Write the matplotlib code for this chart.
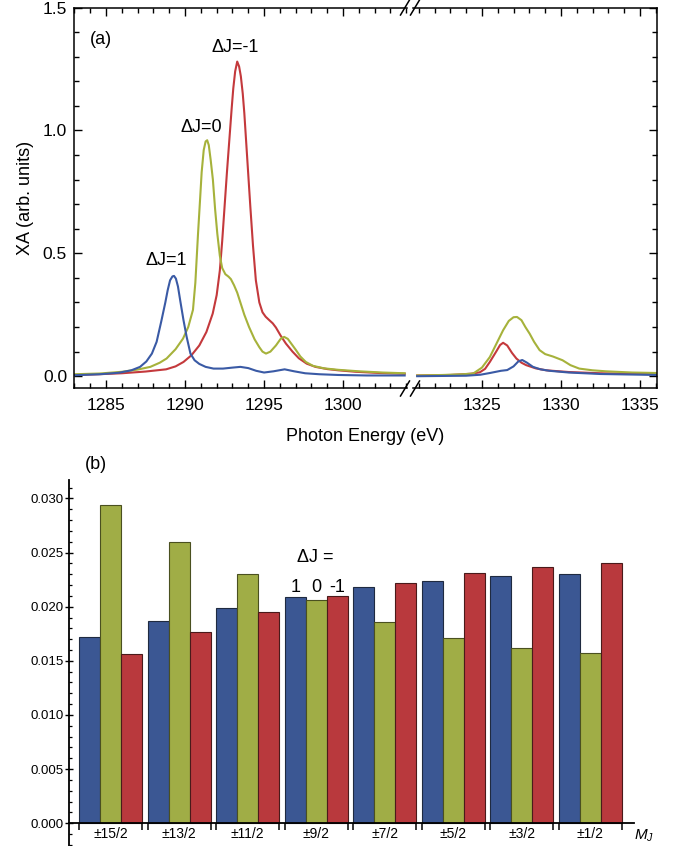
import matplotlib
matplotlib.use('Agg')
import matplotlib.pyplot as plt
from matplotlib.lines import Line2D
from matplotlib.ticker import MultipleLocator, FixedLocator, NullFormatter, FormatStrFormatter

plt.rcParams['font.family'] = ['Liberation Sans', 'DejaVu Sans']
plt.rcParams['mathtext.fontset'] = 'custom'
plt.rcParams['mathtext.rm'] = 'Liberation Sans'
plt.rcParams['mathtext.it'] = 'Liberation Sans:italic'

# ---- (a) XA spectra, L3 edge region ----
red_e1 = [1283.0, 1284.5, 1286.0, 1287.5, 1288.8, 1289.4, 1289.9, 1290.4, 1290.9, 1291.35,
          1291.75, 1292.0, 1292.2, 1292.35, 1292.5, 1292.65, 1292.8, 1292.95, 1293.05, 1293.17,
          1293.3, 1293.42, 1293.53, 1293.65, 1293.75, 1293.85, 1294.0, 1294.13, 1294.3, 1294.48,
          1294.7, 1294.9, 1295.1, 1295.33, 1295.55, 1295.75, 1296.05, 1296.38, 1296.8, 1297.2,
          1297.7, 1298.25, 1299.0, 1299.7, 1300.8, 1302.3, 1303.9]
red_y1 = [0.005, 0.008, 0.012, 0.019, 0.028, 0.040, 0.058, 0.085, 0.125, 0.18,
          0.255, 0.33, 0.43, 0.55, 0.69, 0.83, 0.96, 1.09, 1.17, 1.24,
          1.28, 1.26, 1.22, 1.15, 1.07, 0.97, 0.82, 0.69, 0.53, 0.39,
          0.30, 0.26, 0.242, 0.228, 0.215, 0.198, 0.165, 0.133, 0.10, 0.073,
          0.051, 0.038, 0.029, 0.024, 0.018, 0.013, 0.010]

grn_e1 = [1283.0, 1284.6, 1286.0, 1287.0, 1287.8, 1288.4, 1288.83, 1289.4, 1289.87, 1290.2,
          1290.5, 1290.65, 1290.82, 1290.95, 1291.05, 1291.18, 1291.3, 1291.4, 1291.5, 1291.62,
          1291.76, 1291.9, 1292.04, 1292.2, 1292.35, 1292.55, 1292.75, 1292.9, 1293.1, 1293.3,
          1293.5, 1293.75, 1294.05, 1294.4, 1294.7, 1294.9, 1295.12, 1295.4, 1295.75, 1296.05,
          1296.27, 1296.5, 1296.75, 1297.0, 1297.3, 1297.64, 1298.1, 1298.8, 1299.7, 1301.0,
          1302.5, 1303.9]
grn_y1 = [0.008, 0.011, 0.018, 0.027, 0.038, 0.055, 0.072, 0.11, 0.153, 0.20,
          0.27, 0.38, 0.58, 0.72, 0.83, 0.92, 0.955, 0.96, 0.94, 0.88,
          0.80, 0.68, 0.58, 0.49, 0.44, 0.415, 0.405, 0.395, 0.37, 0.34,
          0.30, 0.25, 0.20, 0.15, 0.118, 0.10, 0.092, 0.10, 0.125, 0.152,
          0.16, 0.152, 0.13, 0.108, 0.08, 0.058, 0.042, 0.032, 0.026, 0.020,
          0.015, 0.012]

blu_e1 = [1283.0, 1284.6, 1285.8, 1286.6, 1287.15, 1287.55, 1287.9, 1288.2, 1288.5, 1288.75,
          1288.9, 1289.05, 1289.2, 1289.3, 1289.42, 1289.55, 1289.7, 1289.9, 1290.1, 1290.34,
          1290.6, 1290.9, 1291.3, 1291.8, 1292.4, 1293.0, 1293.5, 1294.0, 1294.5, 1295.0,
          1295.6, 1296.3, 1296.9, 1297.6, 1298.5, 1299.7, 1301.5, 1303.9]
blu_y1 = [0.004, 0.008, 0.014, 0.024, 0.038, 0.06, 0.092, 0.14, 0.225, 0.30,
          0.35, 0.39, 0.406, 0.408, 0.397, 0.365, 0.305, 0.228, 0.16, 0.092,
          0.065, 0.05, 0.038, 0.031, 0.031, 0.035, 0.038, 0.033, 0.022, 0.015,
          0.02, 0.028, 0.02, 0.012, 0.008, 0.005, 0.003, 0.003]

# ---- (a) XA spectra, L2 edge region ----
red_e2 = [1320.9, 1323.0, 1324.3, 1324.87, 1325.2, 1325.5, 1325.9, 1326.15, 1326.34, 1326.6,
          1326.9, 1327.18, 1327.5, 1327.8, 1328.4, 1329.07, 1330.5, 1332.5, 1336.1]
red_y2 = [0.003, 0.005, 0.01, 0.016, 0.03, 0.058, 0.10, 0.127, 0.136, 0.125,
          0.095, 0.072, 0.055, 0.045, 0.032, 0.024, 0.017, 0.012, 0.008]

grn_e2 = [1320.9, 1322.5, 1323.8, 1324.45, 1325.0, 1325.5, 1325.9, 1326.34, 1326.7, 1327.0,
          1327.22, 1327.5, 1327.75, 1328.02, 1328.3, 1328.65, 1329.0, 1329.5, 1330.1, 1330.6,
          1331.16, 1332.0, 1332.84, 1334.5, 1336.1]
grn_y2 = [0.003, 0.005, 0.008, 0.011, 0.035, 0.078, 0.13, 0.187, 0.225, 0.24,
          0.241, 0.228, 0.20, 0.173, 0.14, 0.106, 0.09, 0.08, 0.065, 0.045,
          0.031, 0.024, 0.020, 0.015, 0.013]

blu_e2 = [1320.9, 1324.0, 1324.9, 1325.5, 1326.2, 1326.6, 1327.0, 1327.3, 1327.55, 1327.85,
          1328.23, 1328.7, 1329.28, 1330.5, 1332.5, 1336.1]
blu_y2 = [0.0, 0.002, 0.006, 0.013, 0.022, 0.025, 0.04, 0.06, 0.066, 0.055,
          0.038, 0.028, 0.022, 0.015, 0.009, 0.005]

# ---- (b) weights per M_J ----
mj_labels = ['±15/2', '±13/2', '±11/2', '±9/2', '±7/2', '±5/2', '±3/2', '±1/2']
w_dj_p1 = [0.0172, 0.0187, 0.0199, 0.0209, 0.0218, 0.0224, 0.0228, 0.0230]
w_dj_0 = [0.0294, 0.0260, 0.0230, 0.0206, 0.0186, 0.0171, 0.0162, 0.0157]
w_dj_m1 = [0.0156, 0.0177, 0.0195, 0.0210, 0.0222, 0.0231, 0.0237, 0.0240]

RED, GRN, BLU = '#c4393c', '#a6b23b', '#3a5aa5'
BAR_BLU, BAR_GRN, BAR_RED = '#3b5793', '#a0ad46', '#b9393d'

W, H = 691, 846
fig = plt.figure(figsize=(W / 100, H / 100), dpi=100)


def px_rect(x0, y0, x1, y1):
    return [x0 / W, 1 - y1 / H, (x1 - x0) / W, (y1 - y0) / H]


ax1 = fig.add_axes(px_rect(74, 7.5, 407, 388.5))
ax2 = fig.add_axes(px_rect(413, 7.5, 657, 388.5))

for ax, segs in ((ax1, [(red_e1, red_y1, RED), (grn_e1, grn_y1, GRN), (blu_e1, blu_y1, BLU)]),
                 (ax2, [(red_e2, red_y2, RED), (grn_e2, grn_y2, GRN), (blu_e2, blu_y2, BLU)])):
    for e, y, c in segs:
        ax.plot(e, y, color=c, lw=1.5, solid_joinstyle='round')
    ax.set_ylim(-0.05, 1.5)
    ax.xaxis.set_major_locator(MultipleLocator(5))
    ax.xaxis.set_minor_locator(MultipleLocator(1))
    ax.yaxis.set_major_locator(MultipleLocator(0.5))
    ax.yaxis.set_minor_locator(MultipleLocator(0.1))
    ax.tick_params(which='both', direction='in', top=True, bottom=True, width=1.0, labelsize=12.5)
    ax.tick_params(which='major', length=5.5)
    ax.tick_params(which='minor', length=3.5)
    ax.tick_params(axis='x', pad=7)
    for s in ax.spines.values():
        s.set_linewidth(1.1)

ax1.set_xlim(1282.97, 1282.97 + 333 / 15.8)
ax2.set_xlim(1336.08 - 244 / 15.8, 1336.08)
ax1.spines['right'].set_visible(False)
ax2.spines['left'].set_visible(False)
ax1.tick_params(axis='y', which='both', left=True, right=False)
ax1.tick_params(axis='y', pad=5)
ax2.tick_params(axis='y', which='both', left=False, right=True, labelleft=False)
ax1.yaxis.set_major_formatter(FormatStrFormatter('%.1f'))

ax1.set_ylabel('XA (arb. units)', fontsize=13, labelpad=6)
fig.text(365 / W, 1 - 436 / H, 'Photon Energy (eV)', fontsize=13, ha='center', va='center')

ax1.text(0.08, 0.915, '(a)', transform=ax1.transAxes, fontsize=13, ha='center', va='center')
ax1.text(1293.2, 1.337, 'ΔJ=-1', fontsize=13, ha='center', va='center')
ax1.text(1291.0, 1.012, 'ΔJ=0', fontsize=13, ha='center', va='center')
ax1.text(1288.8, 0.472, 'ΔJ=1', fontsize=13, ha='center', va='center')

# axis break marks
for yc in (7.5, 388.5):
    for xc in (405, 415):
        fig.add_artist(Line2D([(xc - 4.5) / W, (xc + 4.5) / W],
                              [1 - (yc + 7.5) / H, 1 - (yc - 7.5) / H],
                              color='black', lw=1.1))

# ---- (b) bar chart ----
ax3 = fig.add_axes(px_rect(69, 480, 633.5, 846))
bw = 0.305
xs = list(range(len(mj_labels)))
ax3.bar([x - bw for x in xs], w_dj_p1, width=bw, color=BAR_BLU, edgecolor='#1f2a40', lw=0.8)
ax3.bar(xs, w_dj_0, width=bw, color=BAR_GRN, edgecolor='#4a5020', lw=0.8)
ax3.bar([x + bw for x in xs], w_dj_m1, width=bw, color=BAR_RED, edgecolor='#4a1a1a', lw=0.8)

ax3.set_xlim(-0.608, 7.63)
ax3.set_ylim(-0.0021, 0.0317)
ax3.spines['top'].set_visible(False)
ax3.spines['right'].set_visible(False)
ax3.spines['bottom'].set_position(('data', 0))
ax3.spines['bottom'].set_linewidth(1.3)
ax3.spines['left'].set_linewidth(1.3)

edges = []
for x in xs:
    edges += [x - 1.5 * bw, x + 1.5 * bw]
ax3.xaxis.set_major_locator(FixedLocator(edges))
ax3.xaxis.set_major_formatter(NullFormatter())
ax3.xaxis.set_minor_locator(FixedLocator(xs))
ax3.set_xticklabels(mj_labels, minor=True)
ax3.tick_params(axis='x', which='major', direction='out', length=5, width=1.1)
ax3.tick_params(axis='x', which='minor', length=0, pad=3, labelsize=10)

ax3.yaxis.set_major_locator(MultipleLocator(0.005))
ax3.yaxis.set_minor_locator(MultipleLocator(0.001))
ax3.yaxis.set_major_formatter(FormatStrFormatter('%.3f'))
ax3.tick_params(axis='y', which='major', direction='inout', length=6, width=1.0, labelsize=9.5, pad=1)
ax3.tick_params(axis='y', which='minor', direction='in', length=2.5, width=0.9)

ax3.text(2.98, 0.0245, 'ΔJ =', fontsize=13, ha='center', va='center')
for dx, s in ((-bw, '1'), (0, '0'), (bw, '-1')):
    ax3.text(3 + dx, 0.0218, s, fontsize=13, ha='center', va='center')

fig.text(96 / W, 1 - 464 / H, '(b)', fontsize=13, ha='center', va='center')
fig.text(634 / W, 1 - 836 / H, '$M_J$', fontsize=11, ha='left', va='center')

plt.savefig('out.png', dpi=100)
